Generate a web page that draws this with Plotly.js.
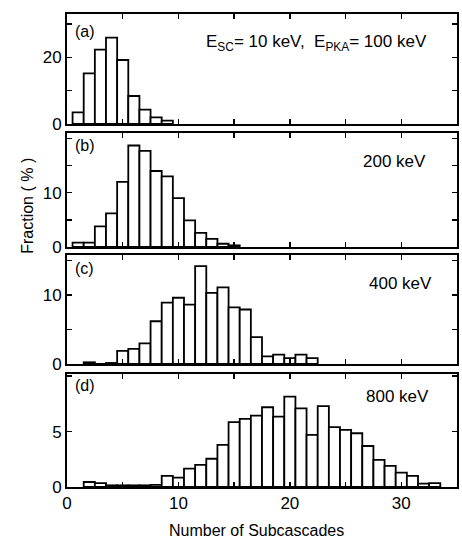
<!DOCTYPE html>
<html>
<head>
<meta charset="utf-8">
<script src="https://cdn.plot.ly/plotly-3.0.1.min.js"></script>
<style>html,body{margin:0;padding:0;background:#fff;}#chart{width:462px;height:538px;}</style>
</head>
<body>
<div id="chart"></div>
<script>
// Number of subcascades (bin centres) and fraction (%) for each PKA energy
const binsA = [1, 2, 3, 4, 5, 6, 7, 8, 9];
const fracA = [3.5, 15.2, 22.3, 25.9, 19.2, 8.4, 4.3, 2.0, 1.0];

const binsB = [1, 2, 3, 4, 5, 6, 7, 8, 9, 10, 11, 12, 13, 14, 15];
const fracB = [0.8, 0.8, 3.8, 6.2, 12.0, 18.7, 17.7, 14.0, 13.0, 9.0, 4.9, 2.6, 1.5, 0.6, 0.3];

const binsC = [2, 3, 4, 5, 6, 7, 8, 9, 10, 11, 12, 13, 14, 15, 16, 17, 18, 19, 20, 21, 22];
const fracC = [0.25, 0, 0.15, 1.9, 2.2, 3.0, 6.2, 8.9, 9.6, 8.6, 14.2, 10.3, 11.1, 8.2, 7.9, 3.9, 1.1, 1.35, 0.85, 1.35, 0.85];

const binsD = [2, 3, 4, 5, 6, 7, 8, 9, 10, 11, 12, 13, 14, 15, 16, 17, 18, 19, 20, 21, 22, 23, 24, 25, 26, 27, 28, 29, 30, 31, 32, 33];
const fracD = [0.45, 0.35, 0.15, 0.15, 0.15, 0.15, 0.2, 1.0, 0.85, 1.65, 2.0, 2.55, 3.8, 5.85, 6.15, 6.45, 7.2, 6.35, 8.15, 7.1, 4.7, 7.3, 5.4, 5.15, 4.85, 3.7, 2.45, 1.9, 1.3, 1.0, 0.3, 0.35];

const panelLabels = ['(a)', '(b)', '(c)', '(d)'];
const energyLabels = ['E<sub>SC</sub>= 10 keV,  E<sub>PKA</sub>= 100 keV', '200 keV', '400 keV', '800 keV'];
const xLabelTicks = [0, 10, 20, 30];
const xMinorTicks = [5, 15, 25, 35];
const xTitle = 'Number of Subcascades';
const yTitle = 'Fraction ( % )';

const FONT = 'Liberation Sans, Arial, sans-serif';

const series = [
  {x: binsA, y: fracA},
  {x: binsB, y: fracB},
  {x: binsC, y: fracC},
  {x: binsD, y: fracD}
];
// panel order top→bottom: a,b,c,d ; axis ids: a->4, b->3, c->2, d->1
const axisIds = ['4', '3', '2', ''];

const traces = series.map((s, i) => ({
  type: 'bar',
  x: s.x,
  y: s.y,
  width: 1,
  xaxis: 'x' + axisIds[i],
  yaxis: 'y' + axisIds[i],
  marker: {color: '#ffffff', line: {color: '#000000', width: 1.8}},
  hoverinfo: 'x+y',
  showlegend: false
}));

const yDomains = {
  '4': [0.7674, 1.0],
  '3': [0.5074, 0.7484],
  '2': [0.2600, 0.4905],
  '': [0.0, 0.2389]
};
const yRanges = {'4': [0, 33], '3': [0, 21], '2': [0, 15.8], '': [0, 10.2]};
const yLabelTicks = {'4': [0, 20], '3': [0, 10], '2': [0, 10], '': [0, 5]};
const yMinorTicks = {'4': [10, 30], '3': [5, 15, 20], '2': [5, 15], '': [10]};

const tickStyle = {ticks: 'inside', ticklen: 5, tickwidth: 1.5, tickcolor: '#000'};
const baseAxis = Object.assign({
  showline: true, linecolor: '#000', linewidth: 2, mirror: 'ticks',
  showgrid: false, zeroline: false, fixedrange: true,
  tickfont: {family: FONT, size: 17, color: '#000'}
}, tickStyle);

const layout = {
  width: 462, height: 538,
  margin: {l: 67, r: 5, t: 14, b: 51},
  paper_bgcolor: '#fff', plot_bgcolor: '#fff',
  bargap: 0,
  font: {family: FONT, color: '#000'},
  annotations: []
};

['4', '3', '2', ''].forEach(id => {
  layout['xaxis' + id] = Object.assign({}, baseAxis, {
    anchor: 'y' + id, domain: [0, 1], range: [0, 35],
    tickmode: 'array', tickvals: xLabelTicks,
    minor: Object.assign({tickmode: 'array', tickvals: xMinorTicks, showgrid: false}, tickStyle),
    showticklabels: id === ''
  });
  layout['yaxis' + id] = Object.assign({}, baseAxis, {
    anchor: 'x' + id, domain: yDomains[id], range: yRanges[id],
    tickmode: 'array', tickvals: yLabelTicks[id],
    minor: Object.assign({tickmode: 'array', tickvals: yMinorTicks[id], showgrid: false}, tickStyle)
  });
});

const labelY = [0.84, 0.89, 0.88, 0.90];
const energyX = [22.4, 29.4, 29.9, 29.7];
const energyY = [0.74, 0.75, 0.74, 0.80];
axisIds.forEach((id, i) => {
  layout.annotations.push({
    xref: 'x' + id, yref: 'y' + id + ' domain', x: 0.5, y: labelY[i],
    xanchor: 'left', yanchor: 'middle', showarrow: false,
    text: panelLabels[i], font: {family: FONT, size: 16, color: '#000'}
  });
  layout.annotations.push({
    xref: 'x' + id, yref: 'y' + id + ' domain', x: energyX[i], y: energyY[i],
    xanchor: 'center', yanchor: 'middle', showarrow: false,
    text: energyLabels[i], font: {family: FONT, size: 17, color: '#000'}
  });
});

layout.annotations.push({
  xref: 'paper', yref: 'paper', x: 0.487, y: -0.091,
  xanchor: 'center', yanchor: 'middle', showarrow: false,
  text: xTitle, font: {family: FONT, size: 16, color: '#000'}
});
layout.annotations.push({
  xref: 'paper', yref: 'paper', x: -0.102, y: 0.595,
  xanchor: 'center', yanchor: 'middle', showarrow: false, textangle: -90,
  text: yTitle, font: {family: FONT, size: 16, color: '#000'}
});

Plotly.newPlot('chart', traces, layout, {displayModeBar: false, staticPlot: true});
</script>
</body>
</html>
